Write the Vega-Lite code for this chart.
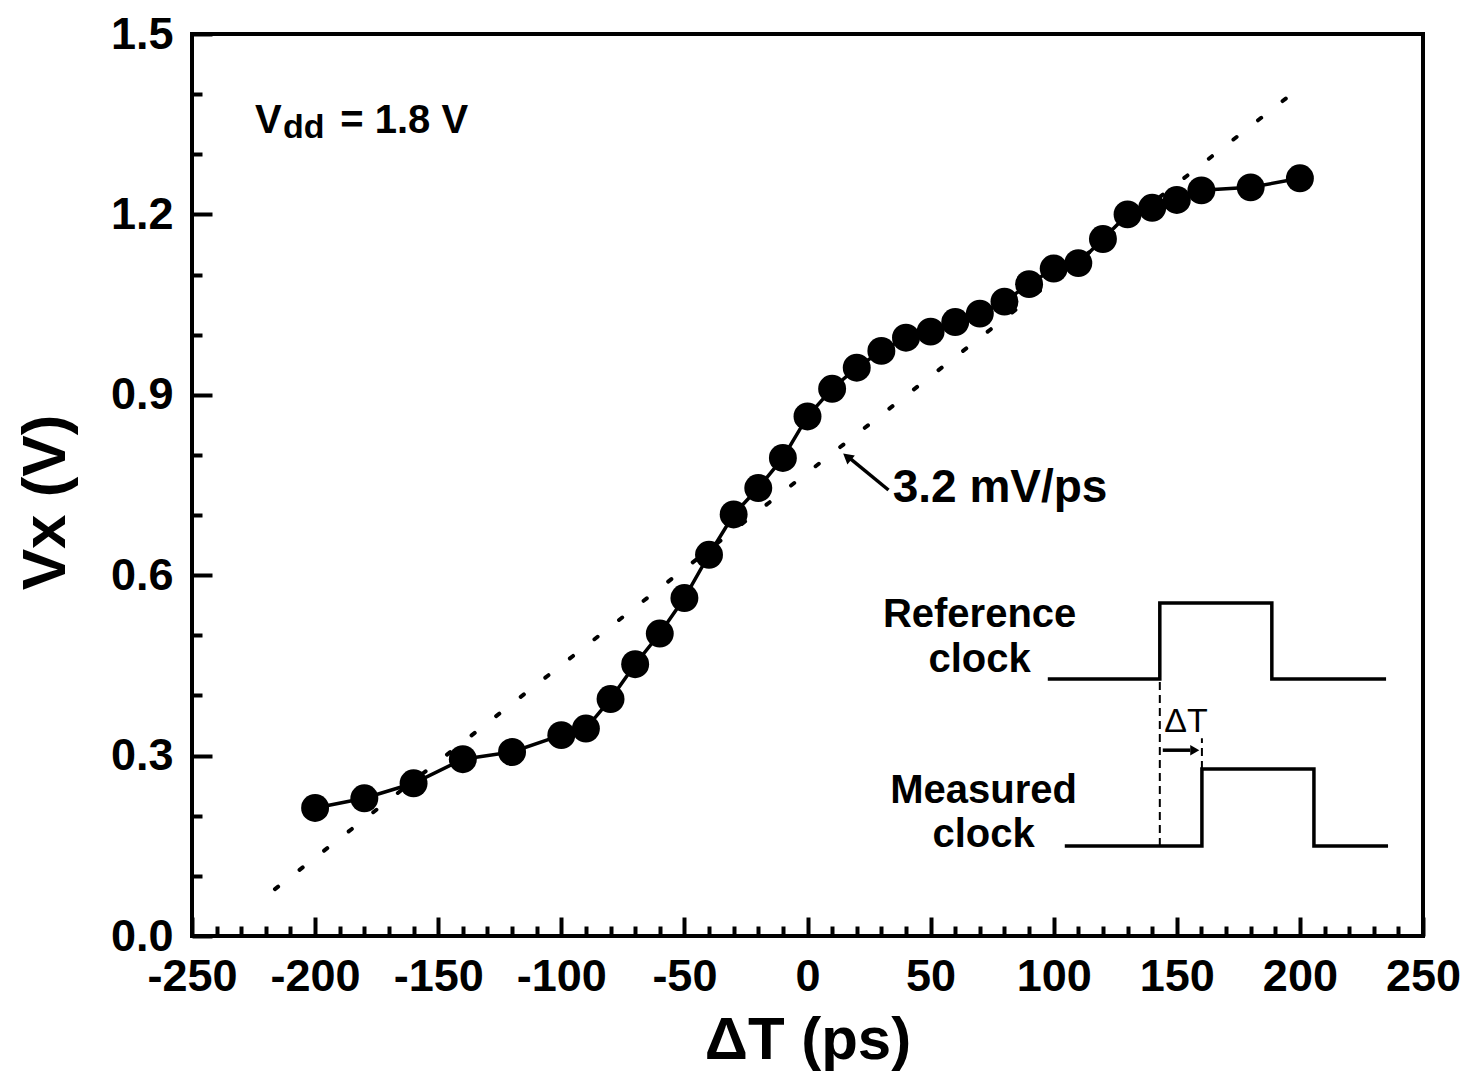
{
  "$schema": "https://vega.github.io/schema/vega-lite/v6.json",
  "width": 1231,
  "height": 902,
  "autosize": "none",
  "padding": {"left": 192, "top": 34, "right": 44, "bottom": 138},
  "background": "white",
  "config": {
    "font": "Liberation Sans",
    "view": {"stroke": "black", "strokeWidth": 4},
    "axis": {"grid": false, "domain": false, "labelColor": "black", "titleColor": "black", "tickColor": "black"}
  },
  "datasets": {
    "pts": [
      {"t": -200, "v": 0.213}, {"t": -180, "v": 0.229}, {"t": -160, "v": 0.254}, {"t": -140, "v": 0.294},
      {"t": -120, "v": 0.306}, {"t": -100, "v": 0.334}, {"t": -90, "v": 0.345}, {"t": -80, "v": 0.394},
      {"t": -70, "v": 0.452}, {"t": -60, "v": 0.503}, {"t": -50, "v": 0.562}, {"t": -40, "v": 0.634},
      {"t": -30, "v": 0.701}, {"t": -20, "v": 0.745}, {"t": -10, "v": 0.795}, {"t": 0, "v": 0.864},
      {"t": 10, "v": 0.910}, {"t": 20, "v": 0.945}, {"t": 30, "v": 0.973}, {"t": 40, "v": 0.995},
      {"t": 50, "v": 1.005}, {"t": 60, "v": 1.021}, {"t": 70, "v": 1.035}, {"t": 80, "v": 1.055},
      {"t": 90, "v": 1.084}, {"t": 100, "v": 1.110}, {"t": 110, "v": 1.119}, {"t": 120, "v": 1.159},
      {"t": 130, "v": 1.200}, {"t": 140, "v": 1.211}, {"t": 150, "v": 1.224}, {"t": 160, "v": 1.240},
      {"t": 180, "v": 1.245}, {"t": 200, "v": 1.260}
    ],
    "fit": [{"t": -216.3, "v": 0.078}, {"t": 195.0, "v": 1.395}],
    "waves": [
      {"wave": "ref", "i": 0, "t": 97.6, "v": 0.4274},
      {"wave": "ref", "i": 1, "t": 143.1, "v": 0.4274},
      {"wave": "ref", "i": 2, "t": 143.1, "v": 0.5538},
      {"wave": "ref", "i": 3, "t": 188.6, "v": 0.5538},
      {"wave": "ref", "i": 4, "t": 188.6, "v": 0.4274},
      {"wave": "ref", "i": 5, "t": 235.0, "v": 0.4274},
      {"wave": "meas", "i": 0, "t": 104.5, "v": 0.1497},
      {"wave": "meas", "i": 1, "t": 160.2, "v": 0.1497},
      {"wave": "meas", "i": 2, "t": 160.2, "v": 0.2777},
      {"wave": "meas", "i": 3, "t": 205.7, "v": 0.2777},
      {"wave": "meas", "i": 4, "t": 205.7, "v": 0.1497},
      {"wave": "meas", "i": 5, "t": 235.8, "v": 0.1497}
    ],
    "dashes": [
      {"t": 143.1, "v": 0.1497, "v2": 0.4274},
      {"t": 160.2, "v": 0.2777, "v2": 0.329}
    ],
    "arrows": [
      {"t": 32.9, "v": 0.7417, "t2": 17.0, "v2": 0.795},
      {"t": 144.3, "v": 0.309, "t2": 155.5, "v2": 0.309}
    ],
    "headSlope": [{"t": 16.1, "v": 0.7969}],
    "headInset": [{"t": 157.3, "v": 0.309}],
    "lbl44": [{"t": 34.6, "v": 0.7218, "label": "3.2 mV/ps"}],
    "lbl40": [
      {"t": 69.9, "v": 0.5139, "label": "Reference"},
      {"t": 69.9, "v": 0.4390, "label": "clock"},
      {"t": 71.5, "v": 0.2212, "label": "Measured"},
      {"t": 71.5, "v": 0.1480, "label": "clock"}
    ],
    "vddMain": [
      {"t": -224.4, "v": 1.3348, "label": "V"},
      {"t": -189.8, "v": 1.3348, "label": "= 1.8 V"}
    ],
    "vddSub": [{"t": -213.0, "v": 1.3264, "label": "dd"}],
    "insetDT": [{"t": 153.7, "v": 0.339, "label": "ΔT"}]
  },
  "resolve": {"axis": {"x": "independent", "y": "independent"}},
  "layer": [
    {
      "data": {"name": "fit"},
      "mark": {"type": "line", "color": "black", "strokeWidth": 4, "strokeDash": [4, 27.2], "strokeCap": "round"},
      "encoding": {
        "x": {
          "field": "t", "type": "quantitative",
          "scale": {"domain": [-250, 250], "nice": false, "zero": false},
          "axis": {
            "orient": "bottom",
            "values": [-250, -200, -150, -100, -50, 0, 50, 100, 150, 200, 250],
            "labelExpr": "datum.value < 0 ? '-' + abs(datum.value) : '' + datum.value",
            "ticks": false,
            "labelFont": "Liberation Sans", "labelFontSize": 45, "labelFontWeight": "bold",
            "labelPadding": 18, "labelFlush": false, "labelOverlap": false, "labelBound": false,
            "title": "ΔT (ps)", "titleFont": "Liberation Sans", "titleFontSize": 60, "titleFontWeight": "bold",
            "titleX": 615.5, "titleY": 122, "titleBaseline": "alphabetic", "titleAlign": "center"
          }
        },
        "y": {
          "field": "v", "type": "quantitative",
          "scale": {"domain": [0, 1.5], "nice": false, "zero": false},
          "axis": {
            "orient": "left",
            "values": [0, 0.3, 0.6, 0.9, 1.2, 1.5],
            "format": ".1f", "ticks": false,
            "labelFont": "Liberation Sans", "labelFontSize": 45, "labelFontWeight": "bold",
            "labelPadding": 19, "labelFlush": false, "labelOverlap": false, "labelBound": false,
            "title": "Vx (V)", "titleFont": "Liberation Sans", "titleFontSize": 62, "titleFontWeight": "bold",
            "titleAngle": -90, "titleX": -128, "titleY": 468, "titleBaseline": "alphabetic", "titleAlign": "center"
          }
        }
      }
    },
    {
      "data": {"name": "pts"},
      "mark": {"type": "line", "color": "black", "strokeWidth": 3.5},
      "encoding": {
        "x": {
          "field": "t", "type": "quantitative",
          "axis": {
            "orient": "bottom",
            "values": [-250, -200, -150, -100, -50, 0, 50, 100, 150, 200, 250],
            "labels": false, "title": null, "ticks": true, "tickSize": -19, "tickWidth": 4
          }
        },
        "y": {
          "field": "v", "type": "quantitative",
          "axis": {
            "orient": "left",
            "values": [0, 0.3, 0.6, 0.9, 1.2, 1.5],
            "labels": false, "title": null, "ticks": true, "tickSize": -20, "tickWidth": 4
          }
        }
      }
    },
    {
      "data": {"name": "pts"},
      "mark": {"type": "circle", "size": 780, "color": "black", "opacity": 1},
      "encoding": {
        "x": {
          "field": "t", "type": "quantitative",
          "axis": {
            "orient": "bottom",
            "values": [-240, -230, -220, -210, -190, -180, -170, -160, -140, -130, -120, -110, -90, -80, -70, -60, -40, -30, -20, -10, 10, 20, 30, 40, 60, 70, 80, 90, 110, 120, 130, 140, 160, 170, 180, 190, 210, 220, 230, 240],
            "labels": false, "title": null, "ticks": true, "tickSize": -10, "tickWidth": 4
          }
        },
        "y": {
          "field": "v", "type": "quantitative",
          "axis": {
            "orient": "left",
            "values": [0.1, 0.2, 0.4, 0.5, 0.7, 0.8, 1.0, 1.1, 1.3, 1.4],
            "labels": false, "title": null, "ticks": true, "tickSize": -10, "tickWidth": 4
          }
        }
      }
    },
    {
      "data": {"name": "waves"},
      "mark": {"type": "line", "color": "black", "strokeWidth": 3.5, "strokeJoin": "miter"},
      "encoding": {
        "x": {"field": "t", "type": "quantitative", "axis": null},
        "y": {"field": "v", "type": "quantitative", "axis": null},
        "detail": {"field": "wave"},
        "order": {"field": "i", "type": "quantitative"}
      }
    },
    {
      "data": {"name": "dashes"},
      "mark": {"type": "rule", "color": "black", "strokeWidth": 2, "strokeDash": [8, 5]},
      "encoding": {
        "x": {"field": "t", "type": "quantitative", "axis": null},
        "y": {"field": "v", "type": "quantitative", "axis": null},
        "y2": {"field": "v2"}
      }
    },
    {
      "data": {"name": "arrows"},
      "mark": {"type": "rule", "color": "black", "strokeWidth": 3.5},
      "encoding": {
        "x": {"field": "t", "type": "quantitative", "axis": null},
        "y": {"field": "v", "type": "quantitative", "axis": null},
        "x2": {"field": "t2"},
        "y2": {"field": "v2"}
      }
    },
    {
      "data": {"name": "headSlope"},
      "mark": {"type": "point", "shape": "triangle-up", "angle": -51, "filled": true, "color": "black", "opacity": 1, "size": 140},
      "encoding": {
        "x": {"field": "t", "type": "quantitative", "axis": null},
        "y": {"field": "v", "type": "quantitative", "axis": null}
      }
    },
    {
      "data": {"name": "headInset"},
      "mark": {"type": "point", "shape": "triangle-right", "filled": true, "color": "black", "opacity": 1, "size": 110},
      "encoding": {
        "x": {"field": "t", "type": "quantitative", "axis": null},
        "y": {"field": "v", "type": "quantitative", "axis": null}
      }
    },
    {
      "data": {"name": "lbl44"},
      "mark": {"type": "text", "font": "Liberation Sans", "fontSize": 46, "fontWeight": "bold", "align": "left", "baseline": "alphabetic", "color": "black"},
      "encoding": {
        "x": {"field": "t", "type": "quantitative", "axis": null},
        "y": {"field": "v", "type": "quantitative", "axis": null},
        "text": {"field": "label"}
      }
    },
    {
      "data": {"name": "lbl40"},
      "mark": {"type": "text", "font": "Liberation Sans", "fontSize": 40, "fontWeight": "bold", "align": "center", "baseline": "alphabetic", "color": "black"},
      "encoding": {
        "x": {"field": "t", "type": "quantitative", "axis": null},
        "y": {"field": "v", "type": "quantitative", "axis": null},
        "text": {"field": "label"}
      }
    },
    {
      "data": {"name": "vddMain"},
      "mark": {"type": "text", "font": "Liberation Sans", "fontSize": 40, "fontWeight": "bold", "align": "left", "baseline": "alphabetic", "color": "black"},
      "encoding": {
        "x": {"field": "t", "type": "quantitative", "axis": null},
        "y": {"field": "v", "type": "quantitative", "axis": null},
        "text": {"field": "label"}
      }
    },
    {
      "data": {"name": "vddSub"},
      "mark": {"type": "text", "font": "Liberation Sans", "fontSize": 34, "fontWeight": "bold", "align": "left", "baseline": "alphabetic", "color": "black"},
      "encoding": {
        "x": {"field": "t", "type": "quantitative", "axis": null},
        "y": {"field": "v", "type": "quantitative", "axis": null},
        "text": {"field": "label"}
      }
    },
    {
      "data": {"name": "insetDT"},
      "mark": {"type": "text", "font": "Liberation Sans", "fontSize": 34, "fontWeight": "normal", "align": "center", "baseline": "alphabetic", "color": "black"},
      "encoding": {
        "x": {"field": "t", "type": "quantitative", "axis": null},
        "y": {"field": "v", "type": "quantitative", "axis": null},
        "text": {"field": "label"}
      }
    }
  ]
}
